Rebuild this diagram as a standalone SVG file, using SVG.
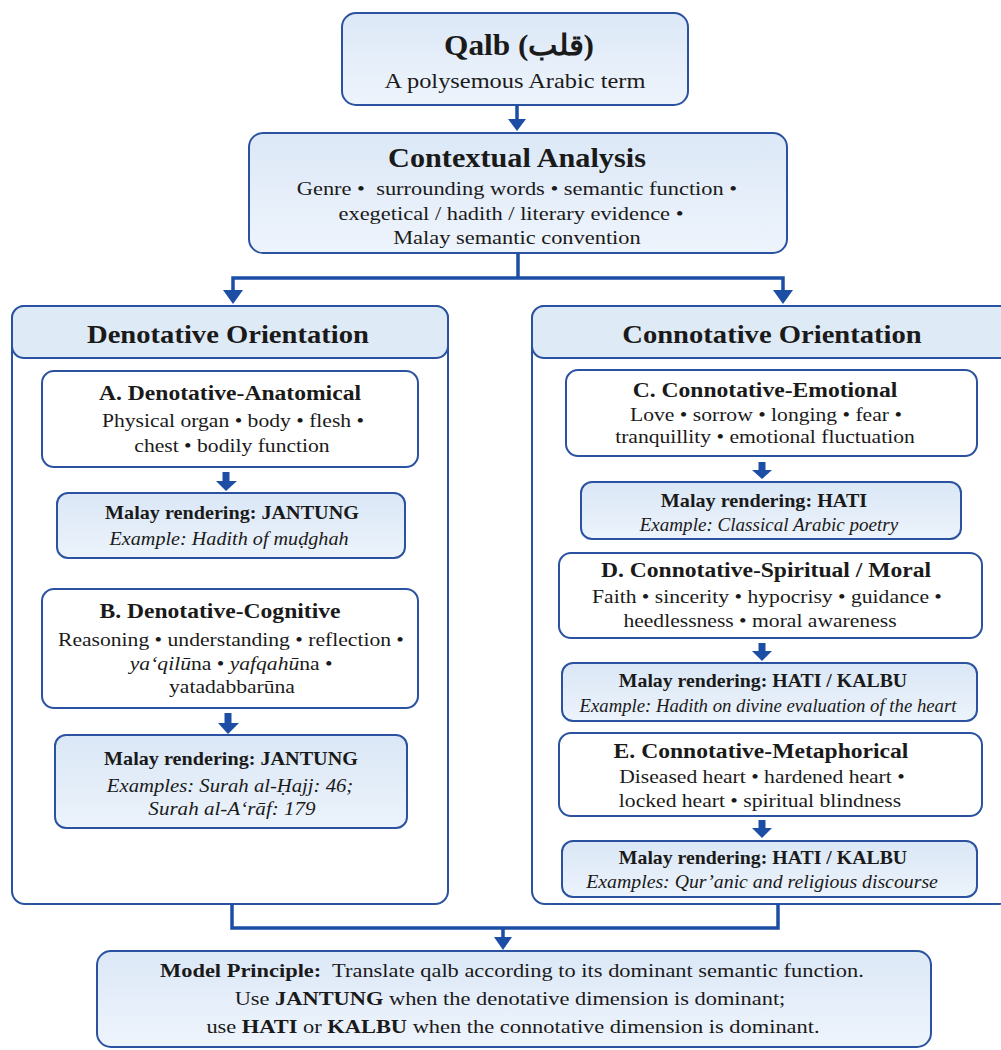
<svg xmlns="http://www.w3.org/2000/svg" width="1001" height="1050" viewBox="0 0 1001 1050">
  <defs>
    <linearGradient id="gBlue" x1="0" y1="0" x2="0" y2="1">
      <stop offset="0" stop-color="#dce8f7"/>
      <stop offset="1" stop-color="#eef4fc"/>
    </linearGradient>
    <linearGradient id="gRend" x1="0" y1="0" x2="0" y2="1">
      <stop offset="0" stop-color="#dae7f6"/>
      <stop offset="1" stop-color="#ecf3fb"/>
    </linearGradient>
    <style>
      .box { stroke: #2a52a0; stroke-width: 2; }
      .hero { fill: url(#gBlue); }
      .white { fill: #ffffff; }
      .rend { fill: url(#gRend); }
      .band { fill: #dfeaf7; }
      .conn { fill: none; stroke: #1c4ea6; stroke-width: 3.5; }
      .head { fill: #1c4ea6; }
      text { font-family: "Liberation Serif", "Times New Roman", "DejaVu Serif", serif; fill: #1a1a1a; text-anchor: middle; transform-box: fill-box; transform-origin: center; }
      .t1 { font-size: 29px; font-weight: bold; transform: scaleX(1.08); }
      .sub { font-size: 20px; transform: scaleX(1.22); }
      .t2 { font-size: 27px; font-weight: bold; transform: scaleX(1.12); }
      .cb { font-size: 19px; transform: scaleX(1.18); }
      .hd { font-size: 26px; font-weight: bold; transform: scaleX(1.1); }
      .bt { font-size: 20px; font-weight: bold; transform: scaleX(1.18); }
      .bd { font-size: 18px; transform: scaleX(1.2); }
      .rt { font-size: 18px; font-weight: bold; transform: scaleX(1.12); }
      .ri { font-size: 18px; font-style: italic; transform: scaleX(1.1); }
      .mp { font-size: 19px; transform: scaleX(1.18); }
      .b { font-weight: bold; }
      .i { font-style: italic; }
    </style>
  </defs>

  <g id="qalb">
    <rect class="box hero" x="342" y="13" width="346" height="92" rx="14"/>
    <text class="t1" x="519" y="55">Qalb (قلب)</text>
    <text class="sub" x="515" y="88">A polysemous Arabic term</text>
  </g>

  <g id="contextual">
    <rect class="box hero" x="249" y="133" width="538" height="120" rx="14"/>
    <text class="t2" x="517" y="167">Contextual Analysis</text>
    <text class="cb" x="517" y="195">Genre •&#160; surrounding words • semantic function •</text>
    <text class="cb" x="511" y="220">exegetical / hadith / literary evidence •</text>
    <text class="cb" x="517" y="244">Malay semantic convention</text>
  </g>

  <g id="denotative">
    <rect class="box white" x="12" y="306" width="436" height="598" rx="13"/>
    <rect class="box band" x="12" y="306" width="436" height="52" rx="12"/>
    <text class="hd" x="228" y="343">Denotative Orientation</text>
  </g>

  <g id="connotative">
    <rect class="box white" x="532" y="306" width="480" height="598" rx="13"/>
    <rect class="box band" x="532" y="306" width="480" height="52" rx="12"/>
    <text class="hd" x="772" y="343">Connotative Orientation</text>
  </g>

  <g id="A">
    <rect class="box white" x="42" y="371" width="376" height="96" rx="12"/>
    <text class="bt" x="230" y="400">A. Denotative-Anatomical</text>
    <text class="bd" x="233" y="427">Physical organ • body • flesh •</text>
    <text class="bd" x="232" y="452">chest • bodily function</text>
  </g>

  <g id="A-render">
    <rect class="box rend" x="57" y="493" width="348" height="65" rx="11"/>
    <text class="rt" x="232" y="519">Malay rendering: JANTUNG</text>
    <text class="ri" x="229" y="545" style="transform: scaleX(1.12)">Example: Hadith of muḍghah</text>
  </g>

  <g id="B">
    <rect class="box white" x="42" y="589" width="376" height="119" rx="12"/>
    <text class="bt" x="220" y="618">B. Denotative-Cognitive</text>
    <text class="bd" x="231" y="646">Reasoning • understanding • reflection •</text>
    <text class="bd" x="231" y="670"><tspan class="i">ya‘qilū</tspan>na • <tspan class="i">yafqahū</tspan>na •</text>
    <text class="bd" x="232" y="693">yatadabbarūna</text>
  </g>

  <g id="B-render">
    <rect class="box rend" x="55" y="735" width="352" height="93" rx="11"/>
    <text class="rt" x="231" y="765">Malay rendering: JANTUNG</text>
    <text class="ri" x="230" y="792" style="transform: scaleX(1.15)">Examples: Surah al-Ḥajj: 46;</text>
    <text class="ri" x="232" y="815" style="transform: scaleX(1.17)">Surah al-A‘rāf: 179</text>
  </g>

  <g id="C">
    <rect class="box white" x="566" y="370" width="411" height="86" rx="12"/>
    <text class="bt" x="765" y="397">C. Connotative-Emotional</text>
    <text class="bd" x="766" y="421">Love • sorrow • longing • fear •</text>
    <text class="bd" x="765" y="443">tranquillity • emotional fluctuation</text>
  </g>

  <g id="C-render">
    <rect class="box rend" x="581" y="482" width="380" height="57" rx="11"/>
    <text class="rt" x="764" y="507">Malay rendering: HATI</text>
    <text class="ri" x="769" y="531" style="transform: scaleX(1.06)">Example: Classical Arabic poetry</text>
  </g>

  <g id="D">
    <rect class="box white" x="559" y="553" width="423" height="85" rx="12"/>
    <text class="bt" x="766" y="577">D. Connotative-Spiritual / Moral</text>
    <text class="bd" x="767" y="603">Faith • sincerity • hypocrisy • guidance •</text>
    <text class="bd" x="760" y="627">heedlessness • moral awareness</text>
  </g>

  <g id="D-render">
    <rect class="box rend" x="562" y="663" width="415" height="58" rx="11"/>
    <text class="rt" x="763" y="687" style="transform: scaleX(1.1)">Malay rendering: HATI / KALBU</text>
    <text class="ri" x="768" y="712" style="transform: scaleX(1.04)">Example: Hadith on divine evaluation of the heart</text>
  </g>

  <g id="E">
    <rect class="box white" x="559" y="733" width="423" height="83" rx="12"/>
    <text class="bt" x="761" y="758">E. Connotative-Metaphorical</text>
    <text class="bd" x="762" y="783">Diseased heart • hardened heart •</text>
    <text class="bd" x="760" y="807">locked heart • spiritual blindness</text>
  </g>

  <g id="E-render">
    <rect class="box rend" x="562" y="841" width="415" height="56" rx="11"/>
    <text class="rt" x="763" y="864" style="transform: scaleX(1.1)">Malay rendering: HATI / KALBU</text>
    <text class="ri" x="762" y="888">Examples: Qur’anic and religious discourse</text>
  </g>

  <g id="principle">
    <rect class="box hero" x="97" y="951" width="834" height="96" rx="14"/>
    <text class="mp" x="512" y="977"><tspan class="b">Model Principle:</tspan>&#160; Translate qalb according to its dominant semantic function.</text>
    <text class="mp" x="510" y="1005">Use <tspan class="b">JANTUNG</tspan> when the denotative dimension is dominant;</text>
    <text class="mp" x="513" y="1033">use <tspan class="b">HATI</tspan> or <tspan class="b">KALBU</tspan> when the connotative dimension is dominant.</text>
  </g>

  <!-- connectors -->
  <g id="connectors">
    <line class="conn" x1="517" y1="105" x2="517" y2="121"/>
    <polygon class="head" points="508,119 526,119 517,131"/>
    <polyline class="conn" points="518,253 518,278"/>
    <polyline class="conn" points="233,292 233,278 783,278 783,292"/>
    <polygon class="head" points="223,290 243,290 233,304"/>
    <polygon class="head" points="773,290 793,290 783,304"/>
    <polyline class="conn" points="232,904 232,928 778,928 778,904"/>
    <line class="conn" x1="503" y1="928" x2="503" y2="940"/>
    <polygon class="head" points="494,937 512,937 503,950"/>
    <g class="head">
      <rect x="222.5" y="472" width="7" height="9"/>
      <polygon points="216,481 237,481 226,491"/>
      <rect x="224.5" y="713" width="7" height="10"/>
      <polygon points="218,723 239,723 228,734"/>
      <rect x="758.5" y="462" width="7" height="8"/>
      <polygon points="752,470 772,470 762,479"/>
      <rect x="758.5" y="643" width="7" height="8"/>
      <polygon points="752,651 772,651 762,661"/>
      <rect x="758.5" y="820" width="7" height="8"/>
      <polygon points="752,828 772,828 762,838"/>
    </g>
  </g>
</svg>
